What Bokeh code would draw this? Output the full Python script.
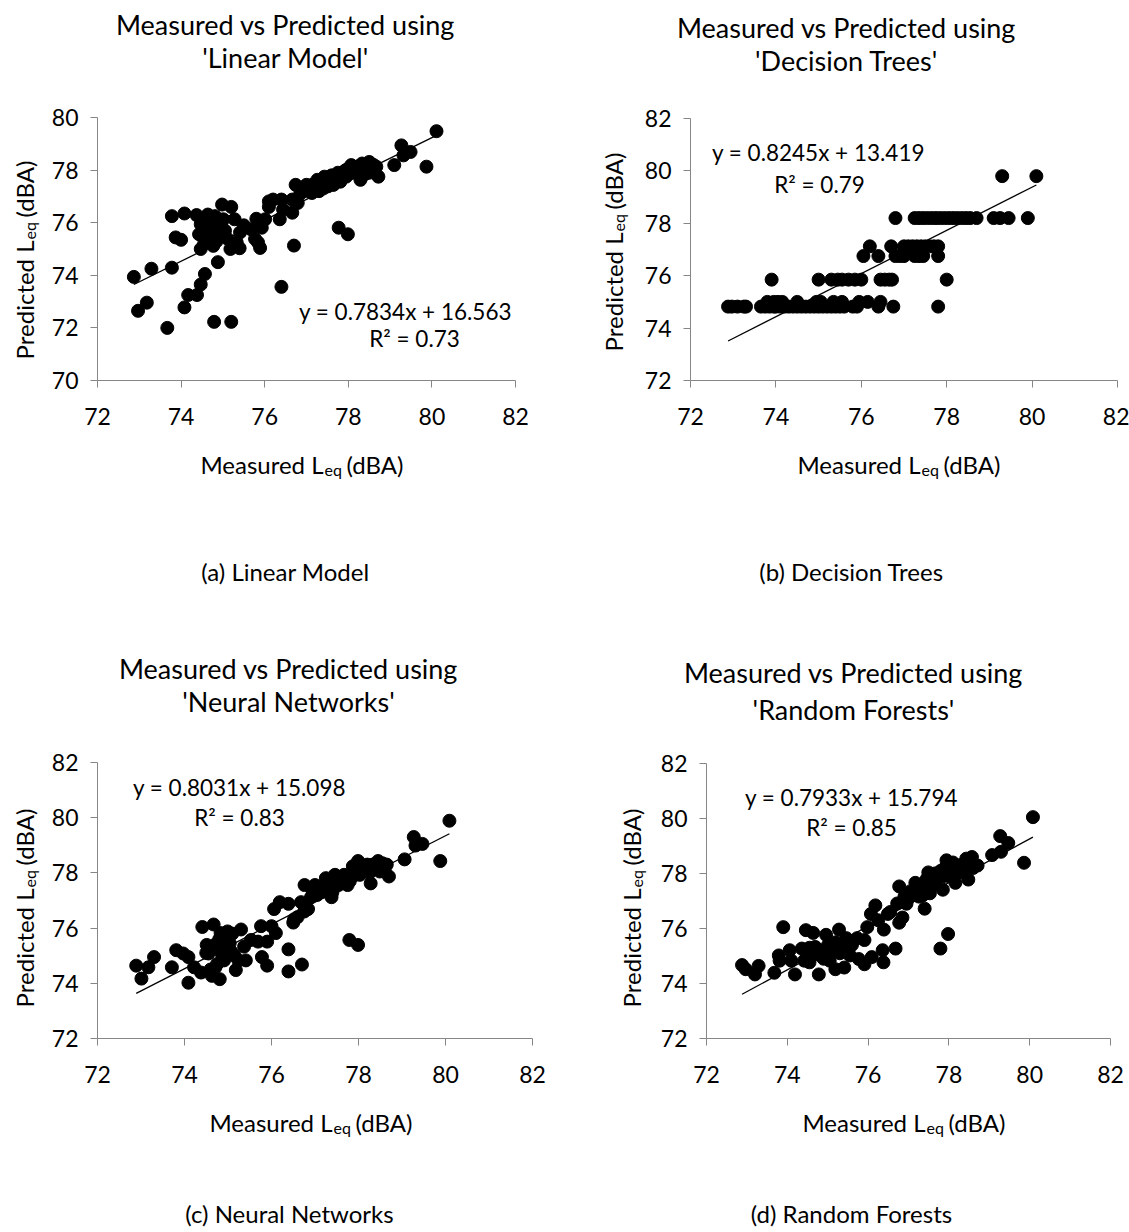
import math
from bokeh.plotting import figure
from bokeh.models import Range1d, FixedTicker, Label
from bokeh.layouts import column, row
from bokeh.embed import file_html
from bokeh.resources import INLINE

FONT = "Lato"

# ---------------- data ----------------
lin_measured = [72.87, 72.97, 73.18, 73.29, 73.67, 73.78, 73.78, 73.87, 74.0, 74.08, 74.08, 74.17, 74.38, 74.37,
                74.47, 74.57, 74.47, 74.47, 74.43, 74.64, 74.67, 74.77, 74.79, 74.81, 74.86, 74.88, 74.98, 74.98,
                75.01, 75.2, 75.2, 75.18, 75.28, 75.33, 75.4, 75.41, 75.5, 75.67, 75.77, 75.8, 75.84, 75.89, 75.93,
                76.01, 76.1, 76.1, 76.2, 76.36, 76.4, 76.4, 76.44, 76.66, 76.7, 76.66, 76.74, 76.79, 76.91, 77.0,
                77.13, 77.26, 77.3, 77.39, 77.43, 77.51, 77.56, 77.64, 77.77, 77.77, 77.81, 77.94, 77.99, 78.03,
                78.07, 78.24, 78.29, 78.33, 78.46, 78.5, 78.67, 78.72, 79.1, 79.27, 79.32, 79.49, 79.87, 80.11,
                76.95, 77.05, 77.1, 77.2, 77.25, 77.35, 77.45, 77.5, 77.55, 77.6, 77.7, 77.75, 77.85, 77.9, 78.0,
                78.1, 78.15, 78.2, 78.35, 78.4, 78.55, 78.6, 77.3, 77.15, 76.85, 77.4, 77.65, 77.95, 78.25, 78.5,
                74.6, 74.7, 74.75, 74.9, 74.95, 75.05, 74.55, 74.65, 74.85, 75.1]
lin_predicted = [73.94, 72.65, 72.96, 74.25, 72.0, 76.25, 74.29, 75.44, 75.35, 72.78, 76.35, 73.25, 73.25, 76.29,
                 73.65, 74.05, 75.0, 75.94, 75.56, 76.31, 75.5, 75.12, 72.23, 76.25, 75.75, 74.5, 76.69, 75.5,
                 76.13, 76.6, 72.23, 75.0, 76.13, 75.25, 75.03, 75.63, 75.9, 75.75, 75.38, 76.15, 75.25, 75.04, 75.81,
                 76.13, 76.81, 76.6, 76.88, 76.13, 76.88, 73.56, 76.5, 76.38, 75.13, 76.88, 77.44, 76.75, 77.25, 77.44,
                 77.13, 77.63, 77.31, 77.44, 77.75, 77.38, 77.69, 77.44, 75.81, 77.81, 77.56, 78.0, 75.56, 77.88,
                 78.19, 77.88, 77.63, 78.25, 78.0, 78.31, 78.13, 77.75, 78.19, 78.94, 78.56, 78.69, 78.13, 79.48,
                 77.3, 77.2, 77.35, 77.4, 77.5, 77.55, 77.6, 77.7, 77.5, 77.8, 77.65, 77.9, 77.7, 77.95, 78.05,
                 77.9, 78.1, 77.95, 78.05, 77.85, 78.1, 78.2, 77.2, 77.45, 77.1, 77.3, 77.45, 77.75, 78.15, 77.9,
                 75.3, 75.7, 75.4, 75.6, 75.9, 75.7, 75.2, 75.9, 75.3, 75.4]

dt_measured = [72.88, 72.97, 73.1, 73.25, 73.3, 73.65, 73.75, 73.85, 73.95, 74.0, 74.1, 74.2, 74.3, 74.4, 74.5,
               74.6, 74.7, 74.8, 74.9, 75.0, 75.1, 75.2, 75.3, 75.4, 75.5, 75.6, 75.8, 75.9, 76.4, 76.75, 77.8,
               73.8, 73.95, 74.05, 74.15, 74.5, 74.95, 75.05, 75.35, 75.55, 75.95, 76.15, 76.45,
               73.9, 75.0, 75.3, 75.45, 75.55, 75.7, 75.85, 76.0, 76.45, 76.55, 76.65, 76.72, 78.0,
               76.05, 76.4, 76.8, 76.9, 77.0, 77.25, 77.35, 77.45, 77.8,
               76.2, 76.7, 77.0, 77.1, 77.2, 77.3, 77.4, 77.5, 77.6, 77.7, 77.8,
               76.8, 77.25, 77.35, 77.45, 77.55, 77.65, 77.75, 77.85, 77.95, 78.05, 78.15, 78.25, 78.35, 78.45,
               78.55, 78.7, 79.1, 79.25, 79.45, 79.9,
               79.3, 80.1]
dt_predicted = [74.82] * 31 + [75.0] * 12 + [75.85] * 13 + [76.75] * 9 + [77.12] * 11 + [78.2] * 20 + [79.8] * 2

nn_measured = [72.89, 73.01, 73.17, 73.3, 73.71, 73.81, 73.97, 74.09, 74.09, 74.22, 74.41, 74.38, 74.51, 74.55,
               74.63, 74.67, 74.71, 74.81, 74.83, 74.87, 74.91, 74.99, 75.04, 75.08, 75.18, 75.24, 75.3, 75.37,
               75.41, 75.53, 75.69, 75.76, 75.78, 75.9, 75.9, 76.0, 76.1, 76.06, 76.19, 76.39, 76.39, 76.39,
               76.52, 76.7, 76.68, 76.76, 76.84, 77.0, 76.91, 77.17, 77.25, 77.38, 77.46, 77.54, 77.67, 77.75,
               77.79, 77.87, 77.99, 77.99, 78.03, 78.16, 78.32, 78.28, 78.45, 78.49, 78.65, 78.7, 79.06, 79.27,
               79.31, 79.47, 79.88, 80.09,
               77.1, 77.2, 77.3, 77.35, 77.45, 77.5, 77.55, 77.6, 77.7, 77.8, 77.85, 77.9, 78.0, 78.1, 78.2,
               78.25, 78.4, 78.55, 78.6, 76.95, 77.05, 77.4, 76.6, 76.5, 76.75, 74.7, 74.85, 74.95, 75.0, 75.15,
               74.75, 74.6, 74.5, 75.1, 74.8]
nn_predicted = [74.64, 74.17, 74.58, 74.95, 74.58, 75.2, 75.08, 74.02, 74.95, 74.58, 76.04, 74.39, 75.39, 75.08,
                74.27, 76.13, 74.58, 74.15, 75.82, 75.02, 74.83, 75.88, 75.45, 75.14, 74.48, 74.83, 75.95, 75.33,
                74.83, 75.57, 75.51, 76.07, 74.95, 74.64, 75.51, 76.07, 75.82, 76.69, 76.94, 75.23, 74.43, 76.88,
                76.32, 74.68, 76.94, 77.56, 76.69, 77.56, 77.12, 77.31, 77.81, 77.12, 77.93, 77.56, 77.93, 77.56,
                75.57, 78.24, 78.43, 75.39, 77.93, 78.18, 78.3, 77.62, 78.43, 78.05, 78.3, 77.87, 78.49, 79.3,
                78.99, 79.05, 78.43, 79.89,
                77.4, 77.5, 77.6, 77.7, 77.5, 77.8, 77.65, 77.75, 77.9, 77.7, 78.0, 78.1, 78.2, 78.05, 78.3,
                78.0, 78.2, 78.35, 78.1, 77.3, 77.2, 77.3, 76.4, 76.2, 76.6, 75.4, 75.1, 75.3, 75.6, 75.0,
                74.7, 74.5, 75.1, 75.8, 75.6]

rf_measured = [72.88, 72.97, 73.2, 73.29, 73.68, 73.79, 73.81, 73.9, 74.06, 74.19, 74.1, 74.36, 74.46, 74.42,
               74.55, 74.64, 74.69, 74.78, 74.82, 74.96, 75.01, 75.05, 75.19, 75.28, 75.32, 75.41, 75.46, 75.55,
               75.73, 75.77, 75.91, 75.91, 75.98, 76.09, 76.07, 76.18, 76.36, 76.38, 76.39, 76.49, 76.68, 76.72,
               76.77, 76.77, 76.9, 77.04, 77.17, 77.26, 77.4, 77.49, 77.44, 77.53, 77.67, 77.76, 77.79, 77.85,
               77.94, 77.98, 77.98, 78.16, 78.25, 78.34, 78.43, 78.48, 78.57, 78.71, 79.07, 79.27, 79.29, 79.47,
               79.86, 80.08,
               77.1, 77.2, 77.3, 77.35, 77.45, 77.5, 77.55, 77.6, 77.65, 77.7, 77.8, 77.85, 77.9, 78.0, 78.05,
               78.1, 78.2, 78.3, 78.4, 78.55, 78.6, 76.95, 77.0, 74.7, 74.85, 74.9, 75.0, 75.1, 75.2, 75.3, 75.4,
               74.6, 74.55, 75.6, 75.5, 76.25, 76.55, 76.85]
rf_predicted = [74.67, 74.52, 74.33, 74.64, 74.39, 75.02, 74.83, 76.05, 75.21, 74.33, 74.83, 75.27, 75.94, 74.83,
                74.77, 75.84, 75.33, 74.33, 75.02, 75.77, 75.4, 74.83, 74.52, 75.96, 75.27, 74.58, 75.65, 75.02,
                75.65, 74.89, 75.58, 74.7, 76.05, 74.96, 76.53, 76.84, 75.21, 74.77, 75.96, 76.53, 75.27, 76.91,
                77.53, 76.21, 77.16, 77.35, 77.66, 77.16, 76.72, 78.04, 77.53, 77.28, 77.66, 78.04, 75.27, 77.41,
                78.48, 75.8, 77.91, 77.66, 78.29, 78.04, 78.54, 77.78, 78.6, 78.29, 78.67, 79.36, 78.79, 79.11,
                78.39, 80.05,
                77.3, 77.45, 77.6, 77.2, 77.8, 77.4, 77.9, 77.6, 78.0, 77.8, 78.1, 77.9, 78.2, 78.3, 78.0,
                78.4, 78.1, 78.3, 78.2, 78.4, 78.2, 76.9, 77.1, 75.1, 75.2, 74.9, 75.1, 75.3, 75.5, 75.1, 75.4,
                75.0, 75.3, 75.4, 75.2, 76.3, 76.6, 76.4]

slopes = [0.7834, 0.8245, 0.8031, 0.7933]
intercepts = [16.563, 13.419, 15.098, 15.794]
r_squared = ["0.73", "0.79", "0.83", "0.85"]
model_names = ["Linear Model", "Decision Trees", "Neural Networks", "Random Forests"]
caption_tags = ["(a)", "(b)", "(c)", "(d)"]
x_ticks = [72, 74, 76, 78, 80, 82]
y_ranges = [(70, 80), (72, 82), (72, 82), (72, 82)]

AXIS_GREY = "#868686"
TITLE_SIZE = "27px"
TICK_SIZE = "23px"
EQ_SIZE = "22.5px"
AXT_SIZE = "24px"
SUB_SIZE = "16px"
CAP_SIZE = "24px"

LB, TB, BB = 50, 15, 58   # borders of the scatter figure around its frame


def no_align(f):
    try:
        f.frame_align = False
    except Exception:
        pass


def text_fig(w, h):
    f = figure(width=w, height=h, output_backend="svg", toolbar_location=None,
               x_axis_location=None, y_axis_location=None,
               x_range=Range1d(0, w), y_range=Range1d(0, h), min_border=0)
    f.outline_line_color = None
    f.grid.visible = False
    f.background_fill_color = "white"
    f.border_fill_color = "white"
    no_align(f)
    return f


def put(f, ox, oy, h, text, X, Y, size, align="center", baseline="middle", angle=0.0):
    """Place a text at page position (X, Y) in a text figure whose page origin is (ox, oy)."""
    f.add_layout(Label(x=X - ox, y=(oy + h) - Y, x_units="screen", y_units="screen", text=text,
                       text_font=FONT, text_font_size=size, text_color="black",
                       text_align=align, text_baseline=baseline, angle=angle))


def block(xs, ys, k, origin, W, H, frame, title_pos, cap_pos, ytitle_pos, xtitle_pos, eq_pos, r2_pos):
    ox, oy = origin
    l, t, r, b = frame
    ylo, yhi = y_ranges[k]

    # ---- scatter figure ----
    sw = W - (l - LB)
    sh = (b + BB) - (t - TB)
    p = figure(width=sw, height=sh, output_backend="svg", toolbar_location=None,
               x_range=Range1d(72, 82), y_range=Range1d(ylo, yhi),
               min_border_left=LB, min_border_right=W - r, min_border_top=TB, min_border_bottom=BB)
    no_align(p)
    p.outline_line_color = None
    p.grid.visible = False
    p.background_fill_color = "white"
    p.border_fill_color = "white"
    for ax in (p.xaxis[0], p.yaxis[0]):
        ax.axis_line_color = AXIS_GREY
        ax.major_tick_line_color = AXIS_GREY
        ax.minor_tick_line_color = None
        ax.major_tick_out = 7
        ax.major_tick_in = 0
        ax.major_label_text_font = FONT
        ax.major_label_text_font_size = TICK_SIZE
        ax.major_label_text_color = "black"
    p.xaxis[0].major_label_standoff = 20
    p.yaxis[0].major_label_standoff = 12
    p.xaxis[0].ticker = FixedTicker(ticks=x_ticks)
    p.yaxis[0].ticker = FixedTicker(ticks=list(range(ylo, yhi + 1, 2)))

    x0, x1 = min(xs), max(xs)
    p.line([x0, x1], [slopes[k] * x0 + intercepts[k], slopes[k] * x1 + intercepts[k]],
           line_color="black", line_width=1.3)
    p.scatter(xs, ys, size=13, fill_color="black", line_color="black")

    fl, fb = ox + l, oy + b   # page position of frame's left/bottom
    for text, (X, Y) in (("y = %.4fx + %.3f" % (slopes[k], intercepts[k]), eq_pos),
                         ("R\u00b2 = " + r_squared[k], r2_pos)):
        p.add_layout(Label(x=X - fl, y=fb - Y, x_units="screen", y_units="screen", text=text,
                           text_font=FONT, text_font_size=EQ_SIZE, text_color="black",
                           text_align="center", text_baseline="middle"))

    # ---- title figure ----
    th = t - TB
    ft = text_fig(W, th)
    put(ft, ox, oy, th, "Measured vs Predicted using", title_pos[0], title_pos[1], TITLE_SIZE)
    put(ft, ox, oy, th, "'" + model_names[k] + "'", title_pos[0], title_pos[2], TITLE_SIZE)

    # ---- y-axis title figure (left) ----
    lw = l - LB
    fy = text_fig(lw, sh)
    fy_oy = oy + th
    cx, cy = ytitle_pos
    bx = cx + 8
    anchor = cy - 17
    rot = math.pi / 2
    put(fy, ox, fy_oy, sh, "Predicted L", bx, anchor, AXT_SIZE, align="right", baseline="alphabetic", angle=rot)
    put(fy, ox, fy_oy, sh, "eq", bx + 5, anchor - 1, SUB_SIZE, align="left", baseline="alphabetic", angle=rot)
    put(fy, ox, fy_oy, sh, "(dBA)", bx, anchor - 23, AXT_SIZE, align="left", baseline="alphabetic", angle=rot)

    # ---- bottom figure: x-axis title and caption ----
    bh = H - (b + BB)
    fbm = text_fig(W, bh)
    fbm_oy = oy + b + BB
    cx, cy = xtitle_pos
    by = cy + 8
    ax_ = cx + 17
    put(fbm, ox, fbm_oy, bh, "Measured L", ax_, by, AXT_SIZE, align="right", baseline="alphabetic")
    put(fbm, ox, fbm_oy, bh, "eq", ax_ + 1, by + 5, SUB_SIZE, align="left", baseline="alphabetic")
    put(fbm, ox, fbm_oy, bh, "(dBA)", ax_ + 23, by, AXT_SIZE, align="left", baseline="alphabetic")
    put(fbm, ox, fbm_oy, bh, caption_tags[k] + " " + model_names[k], cap_pos[0], cap_pos[1], CAP_SIZE)

    return column(ft, row(fy, p, spacing=0), fbm, spacing=0)


ba = block(lin_measured, lin_predicted, 0, (0, 0), 564, 645, (97, 117, 515, 380),
           (285, 24, 57), (285, 571), (16, 257), (306, 456), (405, 311), (414, 338))
bb = block(dt_measured, dt_predicted, 1, (564, 0), 565, 645, (126, 118, 553, 380),
           (846, 27, 60), (851, 571), (605, 249), (903, 456), (818, 152), (819, 184))
bc = block(nn_measured, nn_predicted, 2, (0, 645), 564, 587, (97, 117, 532, 393),
           (288, 668, 701), (289, 1213), (16, 905), (315, 1114), (239, 787), (239, 817))
bd = block(rf_measured, rf_predicted, 3, (564, 645), 565, 587, (142, 118, 546, 393),
           (853, 672, 709), (851, 1213), (623, 905), (908, 1114), (851, 797), (851, 827))

layout = column(row(ba, bb, spacing=0), row(bc, bd, spacing=0), spacing=0)
open("out.html", "w").write(file_html(layout, INLINE))
